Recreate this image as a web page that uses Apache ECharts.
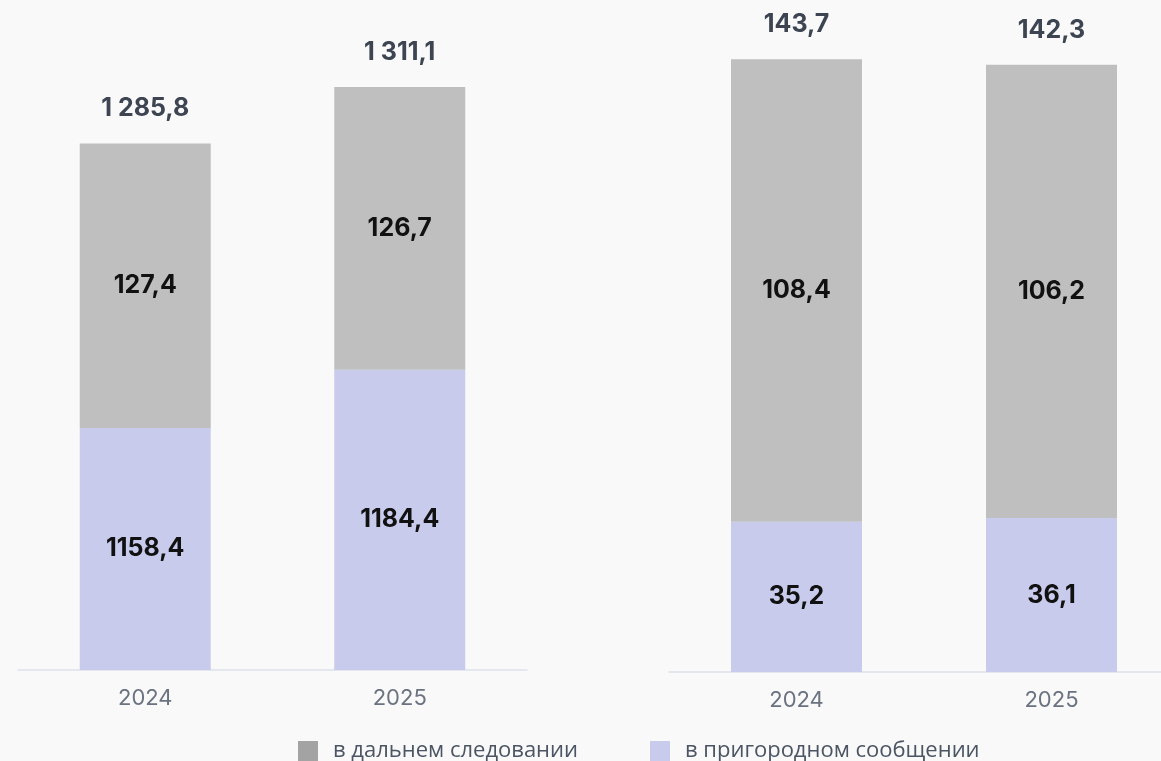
<!DOCTYPE html>
<html><head><meta charset="utf-8">
<script src="https://cdn.jsdelivr.net/npm/echarts@6/dist/echarts.min.js"></script>
<style>html,body{margin:0;padding:0;background:#f9f9f9}#c{width:1161px;height:761px}</style>
</head><body><div id="c"></div>
<script>
const categories = ['2024', '2025'];
// Left panel
const leftSuburban = [1158.4, 1184.4];
const leftLongDistance = [127.4, 126.7];
const leftTotals = [1285.8, 1311.1];
// Right panel
const rightSuburban = [35.2, 36.1];
const rightLongDistance = [108.4, 106.2];
const rightTotals = [143.7, 142.3];
const seriesNames = ['в дальнем следовании', 'в пригородном сообщении'];

function fmt(v) {
  const s = v.toFixed(1).split('.');
  const intPart = s[0].replace(/\B(?=(\d{3})+(?!\d))/g, ' ');
  return intPart + ',' + s[1];
}
const fmtPlain = v => v.toFixed(1).replace('.', ',');

const FONT = 'Inter';
const GRAY = '#bfbfbf', LAV = '#c8cbec';
const segLabel = (f) => ({show: true, position: 'inside', color: '#111111', fontSize: 25, fontWeight: 'bold', fontFamily: FONT, formatter: p => f(p.value)});
const totLabel = (arr, f) => ({show: true, position: 'top', distance: 22, color: '#3d4452', fontSize: 25, fontWeight: 'bold', fontFamily: FONT, formatter: p => f(arr[p.dataIndex])});

function panelSeries(idx, sub, lng, tot, fSeg, fTot) {
  const st = 's' + idx;
  return [
    {name: seriesNames[1], type: 'bar', stack: st, xAxisIndex: idx, yAxisIndex: idx, barWidth: 131, clip: true,
     data: sub, itemStyle: {color: LAV}, label: segLabel(fSeg), emphasis: {disabled: true}},
    {name: seriesNames[0], type: 'bar', stack: st, xAxisIndex: idx, yAxisIndex: idx, barWidth: 131, clip: true,
     data: lng, itemStyle: {color: GRAY}, label: segLabel(fSeg), emphasis: {disabled: true}},
    {name: 'total' + idx, type: 'bar', stack: st, xAxisIndex: idx, yAxisIndex: idx, barWidth: 131, clip: false,
     data: tot.map(() => 0), itemStyle: {color: 'transparent'}, label: totLabel(tot, fTot), emphasis: {disabled: true}}
  ];
}

const xAxisCommon = {
  type: 'category', data: categories,
  axisLine: {lineStyle: {color: '#dde2ea', width: 1.5}}, axisTick: {show: false},
  axisLabel: {color: '#6b7280', fontSize: 22, fontFamily: FONT, margin: 17}
};
const yAxisCommon = {type: 'value', show: false, splitLine: {show: false}};

const chart = echarts.init(document.getElementById('c'), null, {renderer: 'canvas'});
chart.setOption({
  backgroundColor: '#f9f9f9',
  animation: false,
  grid: [
    {left: 18, width: 509, top: 67, bottom: 91, outerBoundsMode: 'none', containLabel: false},
    {left: 669, right: -18, top: 32, bottom: 89, outerBoundsMode: 'none', containLabel: false}
  ],
  xAxis: [Object.assign({gridIndex: 0}, xAxisCommon), Object.assign({gridIndex: 1}, xAxisCommon)],
  yAxis: [Object.assign({gridIndex: 0, min: 1050, max: 1320}, yAxisCommon), Object.assign({gridIndex: 1, min: 0, max: 150}, yAxisCommon)],
  legend: {
    left: 298, top: 740, padding: 0, itemWidth: 20, itemHeight: 20, itemGap: 72, icon: 'rect',
    textStyle: {color: '#4b5563', fontSize: 22, lineHeight: 20, fontFamily: 'Open Sans', padding: [0, 0, 0, 10]},
    data: [{name: seriesNames[0], itemStyle: {color: '#a3a3a3'}}, {name: seriesNames[1], itemStyle: {color: LAV}}],
    selectedMode: false
  },
  series: [].concat(
    panelSeries(0, leftSuburban, leftLongDistance, leftTotals, fmtPlain, fmt),
    panelSeries(1, rightSuburban, rightLongDistance, rightTotals, fmtPlain, fmt)
  )
});
</script></body></html>
